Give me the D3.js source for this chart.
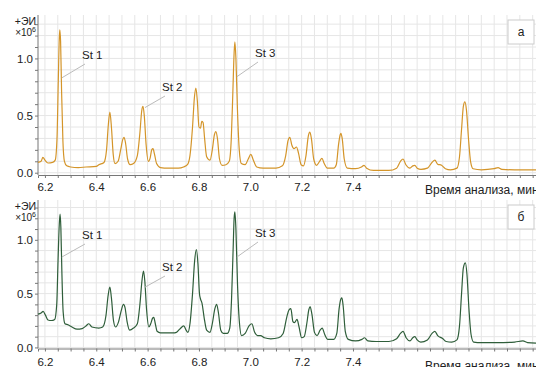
<!DOCTYPE html>
<html>
<head>
<meta charset="utf-8">
<script src="https://cdn.jsdelivr.net/npm/d3@7"></script>
<style>
  body { margin: 0; background: #fff; }
  text { font-family: "Liberation Sans", Arial, sans-serif; fill: #222; }
</style>
</head>
<body>
<div id="chart"></div>
<script>
// retention time (min), intensity (x10^6)
const seriesA = [
  [6.173, 0.09], [6.185, 0.10], [6.192, 0.135], [6.200, 0.11], [6.212, 0.085], [6.230, 0.09],
  [6.240, 0.11], [6.247, 0.30], [6.252, 0.80], [6.256, 1.18], [6.258, 1.25], [6.261, 1.15],
  [6.265, 0.70], [6.270, 0.28], [6.276, 0.10], [6.285, 0.06], [6.300, 0.05], [6.330, 0.045],
  [6.360, 0.05], [6.400, 0.055], [6.410, 0.07], [6.430, 0.09], [6.440, 0.20], [6.447, 0.42],
  [6.453, 0.53], [6.459, 0.40], [6.466, 0.16], [6.473, 0.08], [6.485, 0.10], [6.495, 0.20],
  [6.503, 0.29], [6.508, 0.31], [6.514, 0.26], [6.522, 0.12], [6.532, 0.07], [6.545, 0.08],
  [6.560, 0.15], [6.570, 0.35], [6.577, 0.54], [6.582, 0.58], [6.587, 0.50], [6.594, 0.25],
  [6.603, 0.10], [6.610, 0.13], [6.616, 0.20], [6.621, 0.21], [6.627, 0.16], [6.635, 0.08],
  [6.650, 0.045], [6.680, 0.04], [6.720, 0.04], [6.740, 0.05], [6.755, 0.07], [6.765, 0.15],
  [6.775, 0.40], [6.782, 0.65], [6.788, 0.74], [6.794, 0.62], [6.800, 0.40], [6.806, 0.39],
  [6.811, 0.45], [6.816, 0.44], [6.822, 0.30], [6.830, 0.14], [6.843, 0.11], [6.852, 0.20],
  [6.860, 0.33], [6.866, 0.36], [6.872, 0.30], [6.880, 0.12], [6.890, 0.065], [6.905, 0.07],
  [6.918, 0.10], [6.926, 0.30], [6.932, 0.70], [6.937, 1.05], [6.940, 1.145], [6.944, 1.00],
  [6.950, 0.55], [6.957, 0.20], [6.965, 0.08], [6.980, 0.07], [6.992, 0.12], [7.002, 0.16],
  [7.012, 0.11], [7.025, 0.05], [7.050, 0.04], [7.100, 0.04], [7.125, 0.06], [7.138, 0.15],
  [7.147, 0.28], [7.154, 0.31], [7.162, 0.24], [7.170, 0.21], [7.180, 0.225], [7.188, 0.17],
  [7.198, 0.07], [7.207, 0.06], [7.217, 0.15], [7.226, 0.32], [7.232, 0.355], [7.238, 0.30],
  [7.247, 0.12], [7.258, 0.065], [7.270, 0.10], [7.279, 0.125], [7.288, 0.08], [7.300, 0.04],
  [7.325, 0.04], [7.335, 0.07], [7.344, 0.25], [7.350, 0.33], [7.353, 0.345], [7.358, 0.30],
  [7.366, 0.12], [7.378, 0.04], [7.410, 0.035], [7.433, 0.05], [7.443, 0.065], [7.453, 0.04],
  [7.480, 0.02], [7.540, 0.02], [7.570, 0.04], [7.585, 0.10], [7.595, 0.12], [7.606, 0.07],
  [7.622, 0.04], [7.633, 0.06], [7.641, 0.065], [7.650, 0.04], [7.665, 0.03], [7.690, 0.04],
  [7.708, 0.09], [7.719, 0.11], [7.730, 0.075], [7.745, 0.065], [7.760, 0.035], [7.780, 0.025],
  [7.805, 0.04], [7.815, 0.14], [7.823, 0.38], [7.830, 0.58], [7.836, 0.62], [7.842, 0.55],
  [7.850, 0.30], [7.858, 0.10], [7.868, 0.035], [7.900, 0.025], [7.950, 0.035], [7.965, 0.045],
  [7.980, 0.03], [8.030, 0.025], [8.113, 0.025]
];

const seriesB = [
  [6.173, 0.31], [6.185, 0.32], [6.193, 0.335], [6.202, 0.30], [6.212, 0.255], [6.225, 0.25],
  [6.238, 0.26], [6.246, 0.40], [6.251, 0.80], [6.256, 1.15], [6.259, 1.24], [6.262, 1.12],
  [6.266, 0.70], [6.271, 0.33], [6.278, 0.22], [6.290, 0.21], [6.305, 0.19], [6.325, 0.17],
  [6.345, 0.175], [6.360, 0.20], [6.371, 0.22], [6.383, 0.19], [6.410, 0.18], [6.425, 0.19],
  [6.438, 0.30], [6.446, 0.48], [6.453, 0.56], [6.459, 0.46], [6.467, 0.25], [6.475, 0.19],
  [6.487, 0.24], [6.497, 0.34], [6.506, 0.40], [6.512, 0.37], [6.520, 0.24], [6.530, 0.16],
  [6.545, 0.18], [6.560, 0.22], [6.570, 0.40], [6.578, 0.62], [6.584, 0.71], [6.589, 0.62],
  [6.596, 0.35], [6.605, 0.19], [6.612, 0.22], [6.619, 0.27], [6.624, 0.28], [6.630, 0.22],
  [6.637, 0.15], [6.650, 0.135], [6.700, 0.135], [6.712, 0.14], [6.725, 0.17], [6.741, 0.20],
  [6.750, 0.16], [6.757, 0.14], [6.765, 0.22], [6.775, 0.50], [6.783, 0.80], [6.790, 0.91],
  [6.796, 0.78], [6.802, 0.50], [6.806, 0.45], [6.812, 0.41], [6.820, 0.28], [6.830, 0.16],
  [6.843, 0.14], [6.852, 0.22], [6.862, 0.36], [6.869, 0.40], [6.876, 0.32], [6.885, 0.16],
  [6.895, 0.13], [6.910, 0.13], [6.920, 0.18], [6.927, 0.45], [6.933, 0.90], [6.937, 1.20],
  [6.940, 1.26], [6.944, 1.10], [6.950, 0.60], [6.957, 0.25], [6.966, 0.11], [6.980, 0.13],
  [6.995, 0.20], [7.006, 0.22], [7.017, 0.14], [7.028, 0.11], [7.040, 0.11], [7.055, 0.09],
  [7.080, 0.08], [7.110, 0.09], [7.128, 0.13], [7.142, 0.28], [7.151, 0.35], [7.158, 0.36],
  [7.166, 0.24], [7.172, 0.23], [7.182, 0.26], [7.190, 0.19], [7.200, 0.09], [7.210, 0.10],
  [7.220, 0.22], [7.228, 0.35], [7.233, 0.38], [7.240, 0.31], [7.250, 0.14], [7.260, 0.11],
  [7.272, 0.16], [7.280, 0.18], [7.290, 0.12], [7.302, 0.075], [7.325, 0.075], [7.337, 0.13],
  [7.346, 0.36], [7.353, 0.45], [7.357, 0.46], [7.362, 0.38], [7.370, 0.15], [7.382, 0.075],
  [7.410, 0.06], [7.435, 0.075], [7.445, 0.09], [7.458, 0.06], [7.490, 0.055], [7.540, 0.055],
  [7.570, 0.08], [7.585, 0.13], [7.595, 0.15], [7.607, 0.09], [7.622, 0.06], [7.633, 0.09],
  [7.641, 0.10], [7.650, 0.07], [7.664, 0.05], [7.690, 0.07], [7.708, 0.13], [7.719, 0.15],
  [7.730, 0.11], [7.748, 0.085], [7.763, 0.055], [7.785, 0.05], [7.805, 0.07], [7.815, 0.20],
  [7.823, 0.50], [7.830, 0.74], [7.838, 0.785], [7.844, 0.68], [7.852, 0.35], [7.860, 0.12],
  [7.870, 0.05], [7.900, 0.045], [7.960, 0.045], [8.030, 0.05], [8.062, 0.06], [8.080, 0.045],
  [8.113, 0.04]
];

const xTickLabels = [6.2, 6.4, 6.6, 6.8, 7.0, 7.2, 7.4];
const yTickLabels = [0.0, 0.5, 1.0];
const panelLabels = ['а', 'б'];
const peakNames = ['St 1', 'St 2', 'St 3'];
const peakTimes = [6.258, 6.582, 6.940];
// intensity where each leader line touches its peak
const leaderA = [0.83, 0.57, 0.84];
const leaderB = [0.84, 0.56, 0.84];

const width = 536, height = 367;
const svg = d3.select('#chart').append('svg')
  .attr('width', width).attr('height', height);

const x = d3.scaleLinear().domain([6.173, 8.113]).range([38, 536]);

const panels = [
  { data: seriesA, color: '#d4952a', y: d3.scaleLinear().domain([-0.02, 1.38]).range([175, 15]),
    label: panelLabels[0], leader: leaderA, labelDy: 0, titleDy: 19,
    labelPos: [[82, 55], [162, 87], [255, 53]] },
  { data: seriesB, color: '#2f5e3a', y: d3.scaleLinear().domain([-0.01, 1.37]).range([348.5, 200]),
    label: panelLabels[1], leader: leaderB, labelDy: 2, titleDy: 21,
    labelPos: [[82, 235], [162, 267], [255, 233]] }
];

function drawPanel(p) {
  const y = p.y;
  const [y0, y1] = y.range();
  const g = svg.append('g');

  // grid
  const vGrid = d3.range(6.2, 8.13, 0.05);
  g.selectAll('.vg').data(vGrid).enter().append('line')
    .attr('x1', d => x(d)).attr('x2', d => x(d))
    .attr('y1', y1).attr('y2', y0)
    .attr('stroke', '#e6e6e6').attr('stroke-width', 1);
  const hGrid = d3.range(0, 1.35, 0.1);
  g.selectAll('.hg').data(hGrid).enter().append('line')
    .attr('x1', 38).attr('x2', width)
    .attr('y1', d => y(d)).attr('y2', d => y(d))
    .attr('stroke', '#e6e6e6').attr('stroke-width', 1);

  // x axis
  const isXLabel = d => xTickLabels.some(t => Math.abs(t - d) < 1e-6);
  const xAxis = d3.axisBottom(x)
    .tickValues(d3.range(6.2, 8.13, 0.05))
    .tickSize(3)
    .tickFormat(d => isXLabel(d) ? d3.format('.1f')(d) : '');
  const gx = g.append('g').attr('transform', `translate(0,${y0})`).call(xAxis);
  gx.select('.domain').attr('stroke', '#777');
  gx.selectAll('.tick line').attr('stroke', '#777');
  gx.selectAll('.tick text').filter(d => !isXLabel(d)).remove();
  gx.selectAll('.tick text').attr('font-size', 11.5).attr('fill', '#222')
    .attr('dy', '0.85em').attr('y', 6 + p.labelDy);

  // y axis
  const isYLabel = d => yTickLabels.some(t => Math.abs(t - d) < 1e-6);
  const yAxis = d3.axisLeft(y)
    .tickValues(d3.range(0, 1.35, 0.1))
    .tickSize(3)
    .tickFormat(d => isYLabel(d) ? d3.format('.1f')(d) : '');
  const gy = g.append('g').attr('transform', 'translate(38,0)').call(yAxis);
  gy.select('.domain').attr('stroke', '#777').attr('d', `M0,${y1}V${y0}`);
  gy.selectAll('.tick line').attr('stroke', '#777');
  gy.selectAll('.tick text').filter(d => !isYLabel(d)).remove();
  gy.selectAll('.tick text').attr('font-size', 11.5).attr('fill', '#222').attr('x', -5);

  // y title
  g.append('text').attr('x', 36).attr('y', y1 + 10).attr('text-anchor', 'end')
    .attr('font-size', 10.5).text('+ЭИ');
  const t2 = g.append('text').attr('x', 36).attr('y', y1 + 21).attr('text-anchor', 'end')
    .attr('font-size', 10);
  t2.append('tspan').text('×10');
  t2.append('tspan').attr('font-size', 7).attr('dy', -4).text('6');

  // x title
  g.append('text').attr('x', 425).attr('y', y0 + p.titleDy)
    .attr('font-size', 12).text('Время анализа, мин');

  // line
  const line = d3.line().x(d => x(d[0])).y(d => y(d[1])).curve(d3.curveMonotoneX);
  g.append('path').datum(p.data)
    .attr('fill', 'none').attr('stroke', p.color).attr('stroke-width', 1.2)
    .attr('d', line);

  // peak annotations
  peakNames.forEach((name, i) => {
    const [lx, ly] = p.labelPos[i];
    g.append('line')
      .attr('x1', x(peakTimes[i]) + 2).attr('y1', y(p.leader[i]))
      .attr('x2', lx + 3).attr('y2', ly + 9)
      .attr('stroke', '#bbb').attr('stroke-width', 1);
    g.append('text').attr('x', lx).attr('y', ly + 4)
      .attr('font-size', 11.5).text(name);
  });

  // panel label box
  g.append('rect').attr('x', 508).attr('y', y1 + 5).attr('width', 26).attr('height', 24)
    .attr('fill', '#fff').attr('stroke', '#ccc');
  g.append('text').attr('x', 521).attr('y', y1 + 21).attr('text-anchor', 'middle')
    .attr('font-size', 12).text(p.label);
}

panels.forEach(drawPanel);
</script>
</body>
</html>
